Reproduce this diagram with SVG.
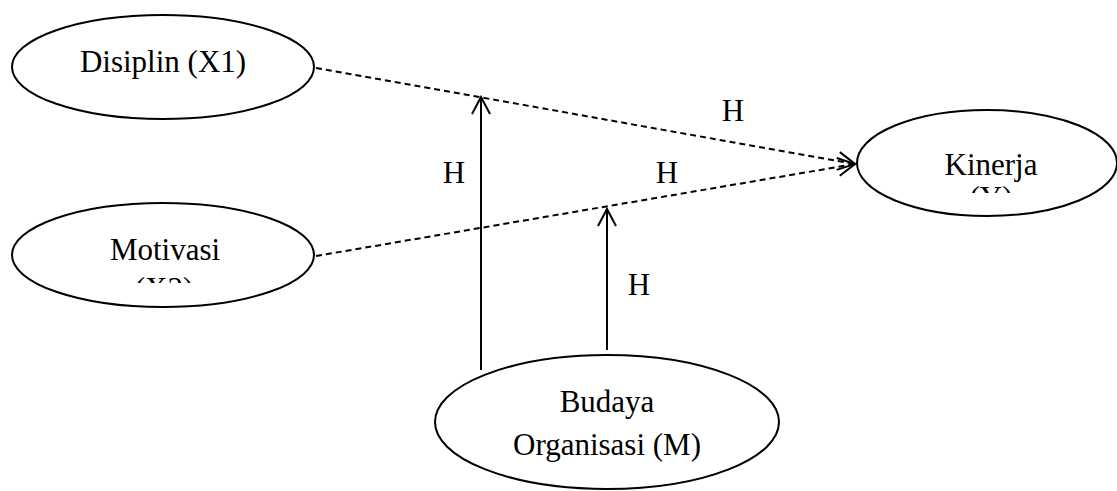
<svg xmlns="http://www.w3.org/2000/svg" width="1117" height="491" viewBox="0 0 1117 491">
<style>
.node{fill:#fff;stroke:#000;stroke-width:2}
.t{font-family:"Liberation Serif","Times New Roman",serif;font-size:31px;fill:#000;text-anchor:middle}
.dash{fill:none;stroke:#000;stroke-width:2;stroke-dasharray:6,4}
.solid{fill:none;stroke:#000;stroke-width:2}
</style>
<defs>
<marker id="arr" viewBox="0 0 20 20" refX="18" refY="10" markerWidth="20" markerHeight="20" markerUnits="userSpaceOnUse" orient="auto">
<path d="M1,1 L18,10 L1,19" fill="none" stroke="#000" stroke-width="2"/>
</marker>
<clipPath id="clipY"><rect x="900" y="150" width="200" height="43"/></clipPath>
<clipPath id="clipX2"><rect x="50" y="230" width="250" height="53"/></clipPath>
</defs>
<g id="connectors">
<line class="dash" x1="316" y1="68" x2="855" y2="164" marker-end="url(#arr)"/>
<line class="dash" x1="316" y1="256" x2="855" y2="164" marker-end="url(#arr)"/>
<line class="solid" x1="481" y1="370" x2="481" y2="97" marker-end="url(#arr)"/>
<line class="solid" x1="607" y1="350" x2="607" y2="209" marker-end="url(#arr)"/>
<text class="t" x="733" y="121">H</text>
<text class="t" x="454" y="183">H</text>
<text class="t" x="667" y="183">H</text>
<text class="t" x="639" y="295">H</text>
</g>
<g id="disiplin">
<ellipse class="node" cx="163" cy="67" rx="151" ry="52"/>
<text class="t" x="163" y="72">Disiplin (X1)</text>
</g>
<g id="motivasi">
<ellipse class="node" cx="163" cy="255" rx="151" ry="52"/>
<text class="t" x="165" y="260">Motivasi</text>
<text class="t" x="164" y="299" clip-path="url(#clipX2)">(X2)</text>
</g>
<g id="kinerja">
<ellipse class="node" cx="987" cy="163" rx="130" ry="53"/>
<text class="t" x="991" y="175">Kinerja</text>
<text class="t" x="991" y="208" clip-path="url(#clipY)">(Y)</text>
</g>
<g id="budaya">
<ellipse class="node" cx="607" cy="422" rx="172" ry="67"/>
<text class="t" x="607" y="412">Budaya</text>
<text class="t" x="607" y="455">Organisasi (M)</text>
</g>
</svg>
